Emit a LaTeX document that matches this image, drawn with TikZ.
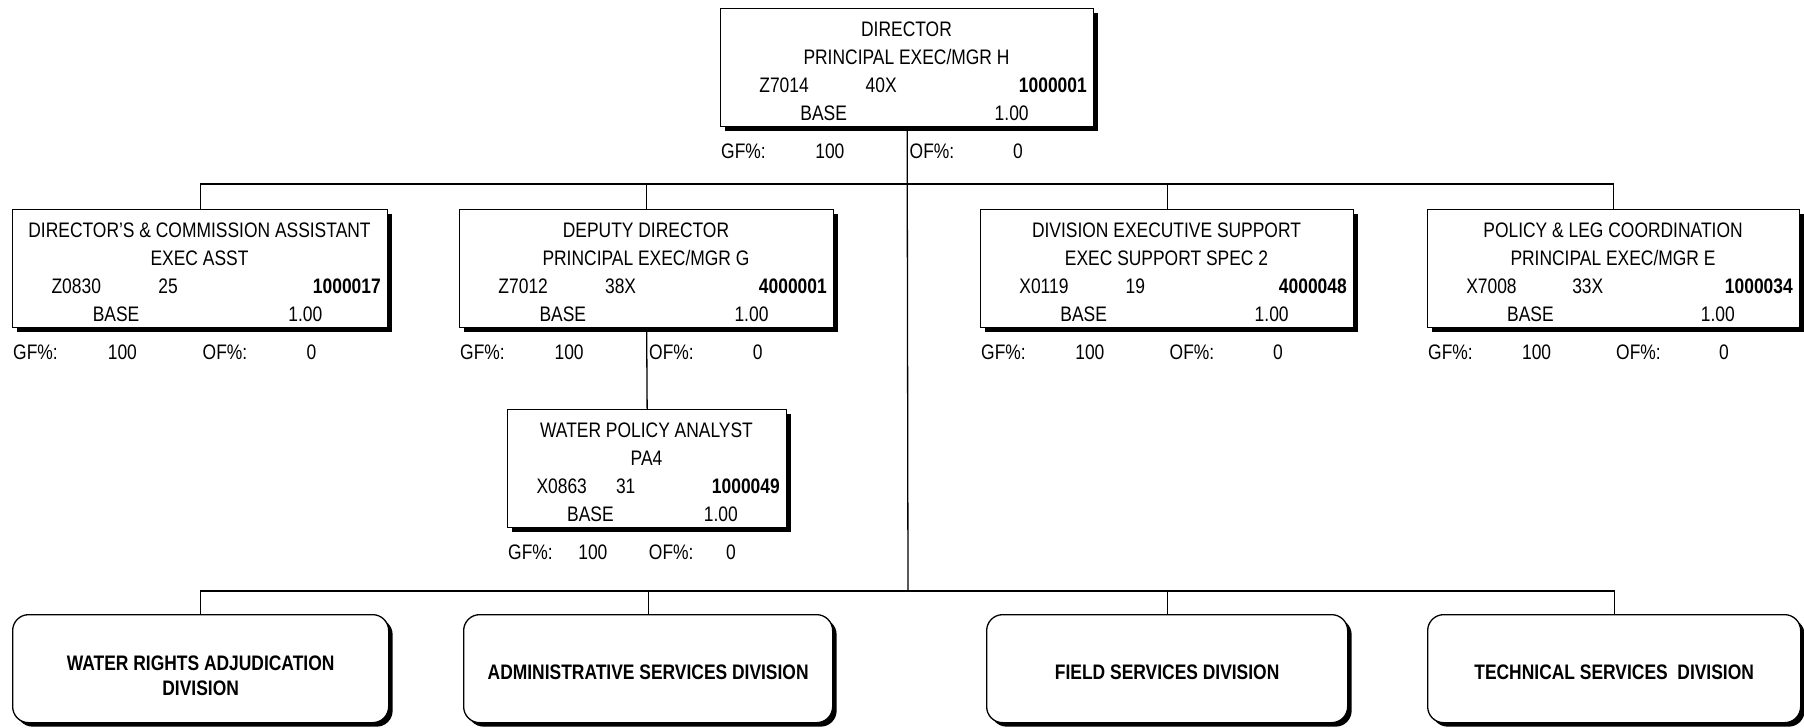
\documentclass[tikz,border=0pt]{standalone}
\usepackage{fontspec}
\setmainfont[FakeStretch=0.83]{Liberation Sans}
\usetikzlibrary{shadows,calc}

\tikzset{
  posbox/.style={draw, line width=1.3pt, fill=white, inner sep=0pt, anchor=north west,
    general shadow={fill=black, shadow xshift=4pt, shadow yshift=-4pt}},
  divbox/.style={posbox, rounded corners=16pt, minimum height=108pt},
  divtxt/.style={inner sep=0pt, align=center, font=\fontsize{21}{25}\selectfont\bfseries},
  lbl/.style={inner sep=0pt, font=\fontsize{21}{21}\selectfont},
  numlbl/.style={inner sep=0pt, font=\fontsize{21}{21}\selectfont\bfseries},
  link/.style={line width=1.3pt},
}

% Position box: name, left, top, right, title, class, code, grade, position number
\newcommand\posbox[9]{%
  \pgfmathsetmacro\pw{#4-#2}
  \node[posbox, minimum width=\pw pt, minimum height=118pt] (#1) at (#2,#3) {};
  \node[lbl, anchor=base] (#1-title) at ({(#2+#4)/2},{#3+28}) {#5};
  \node[lbl, anchor=base] (#1-class) at ({(#2+#4)/2},{#3+56}) {#6};
  \node[lbl, anchor=base west] (#1-code) at ({#2+0.105*\pw},{#3+84.5}) {#7};
  \node[lbl, anchor=base west] (#1-grade) at ({#2+0.39*\pw},{#3+84.5}) {#8};
  \node[numlbl, anchor=base east] (#1-num) at ({#4-6},{#3+84.5}) {#9};
  \node[lbl, anchor=base west] (#1-base) at ({#2+0.215*\pw},{#3+112.5}) {BASE};
  \node[lbl, anchor=base east] (#1-fte) at ({#4-0.172*\pw},{#3+112.5}) {1.00};
  \node[lbl, anchor=base west] (#1-gf) at ({#2+1},{#3+150}) {GF\%:};
  \node[lbl, anchor=base west] (#1-gfv) at ({#2+0.255*\pw},{#3+150}) {100};
  \node[lbl, anchor=base west] (#1-of) at ({#2+0.508*\pw},{#3+150}) {OF\%:};
  \node[lbl, anchor=base west] (#1-ofv) at ({#2+0.785*\pw},{#3+150}) {0};
}

\begin{document}
\begin{tikzpicture}[x=1pt, y=-1pt]
\useasboundingbox (0,0) rectangle (1804,728);

% director and direct reports
\posbox{dir}{720}{8}{1093}{DIRECTOR}{PRINCIPAL EXEC/MGR H}{Z7014}{40X}{1000001}
\posbox{dca}{12}{209}{387}{DIRECTOR'S \& COMMISSION ASSISTANT}{EXEC ASST}{Z0830}{25}{1000017}
\posbox{dep}{459}{209}{833}{DEPUTY DIRECTOR}{PRINCIPAL EXEC/MGR G}{Z7012}{38X}{4000001}
\posbox{des}{980}{209}{1353}{DIVISION EXECUTIVE SUPPORT}{EXEC SUPPORT SPEC 2}{X0119}{19}{4000048}
\posbox{plc}{1427}{209}{1799}{POLICY \& LEG COORDINATION}{PRINCIPAL EXEC/MGR E}{X7008}{33X}{1000034}
\posbox{wpa}{507}{409}{786}{WATER POLICY ANALYST}{PA4}{X0863}{31}{1000049}

% divisions
\node[divbox, minimum width=376pt] (wrad) at (12,614) {};
\node[divtxt] (wrad-t) at ([yshift=-7pt]wrad.center) {WATER RIGHTS ADJUDICATION\\DIVISION};
\node[divbox, minimum width=369pt] (asd) at (463,614) {};
\node[divtxt] (asd-t) at ([yshift=-4pt]asd.center) {ADMINISTRATIVE SERVICES DIVISION};
\node[divbox, minimum width=361pt] (fsd) at (986,614) {};
\node[divtxt] (fsd-t) at ([yshift=-4pt]fsd.center) {FIELD SERVICES DIVISION};
\node[divbox, minimum width=373pt] (tsd) at (1427,614) {};
\node[divtxt] (tsd-t) at ([yshift=-4pt]tsd.center) {TECHNICAL SERVICES~ DIVISION};

% reporting lines
\coordinate (hub1) at (908,184);
\coordinate (hub2) at (908,591);
\draw[link] (dir.south) -- (hub2);
\draw[link] (dca.north) -- (dca.north |- hub1) -- (plc.north |- hub1) -- (plc.north);
\draw[link] (dep.north) -- (dep.north |- hub1);
\draw[link] (des.north) -- (des.north |- hub1);
\draw[link] (dep.south) -- (wpa.north);
\draw[link] (wrad.north) -- (wrad.north |- hub2) -- (tsd.north |- hub2) -- (tsd.north);
\draw[link] (asd.north) -- (asd.north |- hub2);
\draw[link] (fsd.north) -- (fsd.north |- hub2);
\end{tikzpicture}
\end{document}
